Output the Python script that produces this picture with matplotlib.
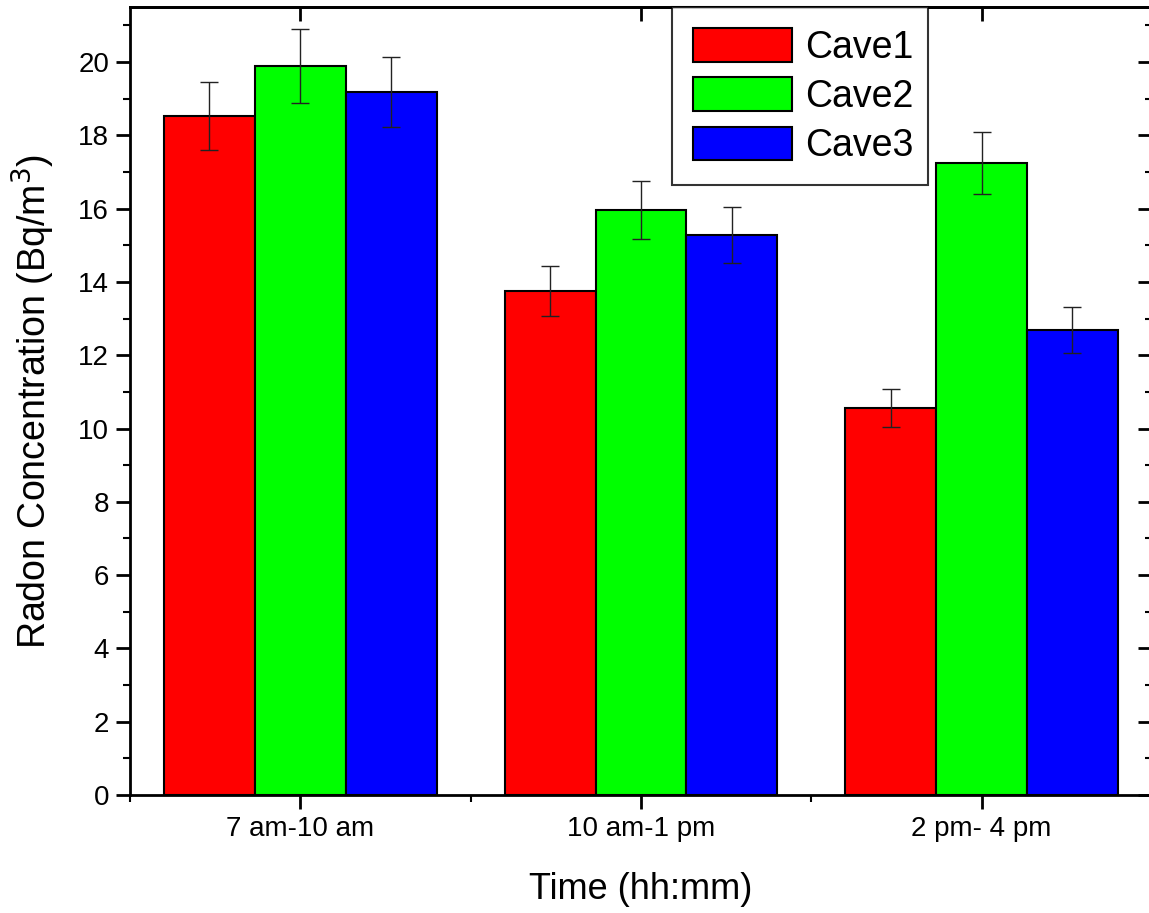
import numpy as np
import matplotlib.pyplot as plt
from matplotlib.ticker import MultipleLocator, FixedLocator

plt.rcParams['font.family'] = ['Liberation Sans', 'DejaVu Sans']

# Datos
periodos = ['7 am-10 am', '10 am-1 pm', '2 pm- 4 pm']
cuevas = ['Cave1', 'Cave2', 'Cave3']
cave1 = [18.53, 13.75, 10.56]
cave2 = [19.89, 15.96, 17.24]
cave3 = [19.18, 15.28, 12.69]
err1 = [0.93, 0.68, 0.53]
err2 = [1.00, 0.79, 0.85]
err3 = [0.95, 0.76, 0.63]

clrs = ['#ff0000', '#00ff00', '#0000ff']

fg = plt.figure(figsize=(11.49, 9.13), dpi=100)
ax = fg.add_axes([0.1131, 0.1292, 0.8895, 0.8631])

x = np.arange(1, len(periodos) + 1)
w = 0.8 / 3
series = [cave1, cave2, cave3]
errs = [err1, err2, err3]
for i in range(3):
    ax.bar(x + (i - 1) * w, series[i], w, color=clrs[i], edgecolor='black',
           linewidth=1.5, label=cuevas[i], zorder=2)
    ax.errorbar(x + (i - 1) * w, series[i], yerr=errs[i], fmt='none',
                ecolor='#222222', elinewidth=1.0, capsize=6.5, capthick=1.0, zorder=3)

ax.set_xlim(0.5, 3.5)
ax.set_ylim(0, 21.5)
ax.set_xticks(x)
ax.set_xticklabels(periodos)
ax.xaxis.set_minor_locator(FixedLocator([0.5, 1.5, 2.5, 3.5]))
ax.yaxis.set_major_locator(MultipleLocator(2))
ax.yaxis.set_minor_locator(MultipleLocator(1))

ax.tick_params(which='major', direction='out', length=10, width=2, pad=5, labelsize=20)
ax.tick_params(which='minor', direction='out', length=5, width=1.5)

# ejes superior y derecho con marcas hacia adentro
axt = ax.secondary_xaxis('top')
axt.set_xticks(x)
axt.set_xticklabels([])
axt.tick_params(direction='in', length=10, width=2)
axr = ax.secondary_yaxis('right')
axr.yaxis.set_major_locator(MultipleLocator(2))
axr.yaxis.set_minor_locator(MultipleLocator(1))
axr.set_yticklabels([])
axr.tick_params(which='major', direction='in', length=10, width=2)
axr.tick_params(which='minor', direction='in', length=5, width=1.5)

for a in (ax, axt, axr):
    for s in a.spines.values():
        s.set_linewidth(2)

ax.set_xlabel('Time (hh:mm)', fontsize=26, labelpad=22)
ax.set_ylabel('Radon Concentration (Bq/m$^3$)', fontsize=27, labelpad=15)

leg = ax.legend(loc='upper left', bbox_to_anchor=(0.53, 0.0, 0.251, 1.0), mode='expand',
                fontsize=27, frameon=True, fancybox=False, edgecolor='black',
                handlelength=2.64, handleheight=1.0, handletextpad=0.35,
                labelspacing=0.31, borderpad=0.56, borderaxespad=0)
leg.get_frame().set_linewidth(1.5)

fg.savefig('out.png', dpi=100)
